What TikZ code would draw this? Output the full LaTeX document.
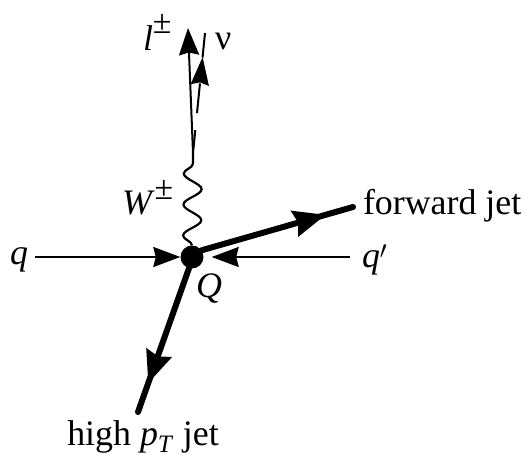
\documentclass[tikz,border=0pt]{standalone}
\usepackage{fontspec}
\setmainfont{Liberation Serif}
\usetikzlibrary{arrows.meta,decorations.pathmorphing,decorations.markings}
\begin{document}
\begin{tikzpicture}[x=1bp,y=-1bp,
  font=\fontsize{36}{40}\selectfont,
  lbl/.style={inner sep=0pt, outer sep=0pt},
  fermion/.style={line width=2bp, -{Stealth[length=27bp,width=20bp,inset=2.5bp]}},
  jet/.style={line width=6bp, line cap=round, postaction={decorate},
    decoration={markings, mark=at position #1 with {\arrow{Stealth[length=32bp,width=26bp,inset=3.5bp]}}}},
  nuline/.style={line width=2bp, dash pattern=on 23bp off 17bp on 30bp off 26bp on 30bp, postaction={decorate},
    decoration={markings, mark=at position 0.8 with {\arrow{Stealth[length=28bp,width=18bp,inset=2.5bp]}}}},
  boson/.style={line width=2.2bp, decorate, decoration={snake, segment length=31bp, amplitude=9bp}}]
\useasboundingbox (0,0) rectangle (531,459);

% vertex
\node[circle, fill=black, minimum size=23bp, inner sep=0pt] (V) at (192,257) {};

% end points
\coordinate (qs) at (35,257);
\coordinate (qps) at (350,257);
\coordinate (fj) at (353,207);
\coordinate (hj) at (138,412);
\coordinate (Wt) at (193,153);
\coordinate (lt) at (188,28);
\coordinate (nt) at (205,33);

% labels
\node[lbl, anchor=base] (q) at (19,265) {\textit{q}};
\node[lbl, anchor=base west] (qp) at (362,267) {\textit{q}$'$};
\node[lbl, anchor=base west] (fjl) at (363,215) {forward jet};
\node[lbl, anchor=base] (hjl) at (143,445) {high \textit{p}\textsubscript{\textit{T}} jet};
\node[lbl, anchor=base] (Ql) at (209,297) {\textit{Q}};
\node[lbl, anchor=base west] (Wl) at (122,215) {\textit{W}\raisebox{15bp}{\fontsize{34}{34}\selectfont ±}};
\node[lbl, anchor=base west] (ll) at (143,51) {\textit{l}\raisebox{17bp}{\fontsize{34}{34}\selectfont ±}};
\node[lbl, anchor=base west] (nl) at (215,50) {ν};

% lines
\draw[fermion] (qs) -- (V.west);
\draw[fermion] (qps) -- ([xshift=8bp]V.east);
\draw[jet=0.82] (V.35) -- (fj);
\draw[jet=0.8] (V.-105) -- (hj);
\draw[boson] (V.north) -- (Wt);
\draw[fermion] (Wt) -- (lt);
\draw[nuline] (Wt) -- (nt);
\end{tikzpicture}
\end{document}
